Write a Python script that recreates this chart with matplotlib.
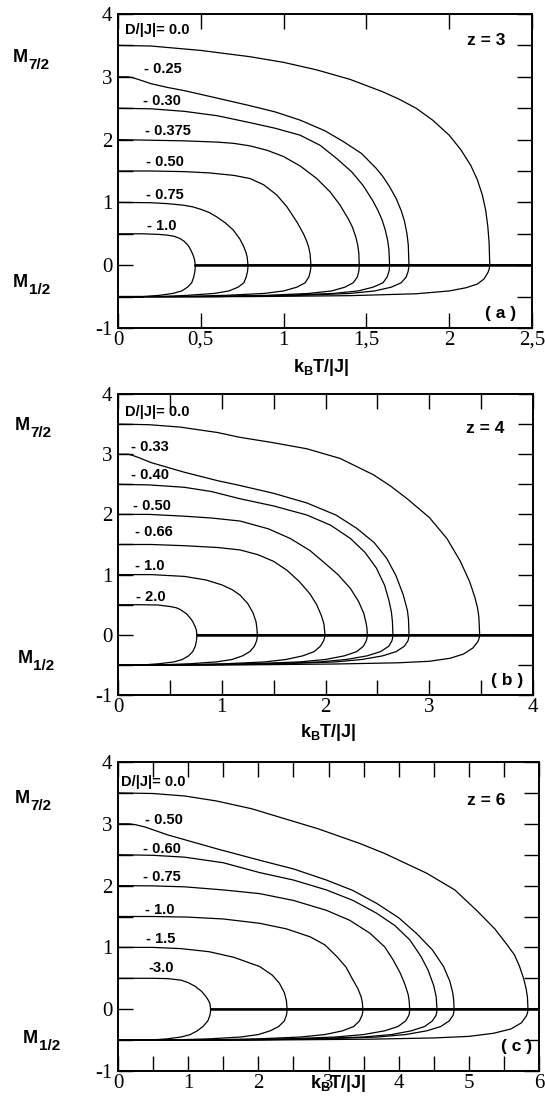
import matplotlib
matplotlib.use("Agg")
import matplotlib.pyplot as plt

plt.rcParams['mathtext.fontset'] = 'custom'
plt.rcParams['mathtext.bf'] = 'Liberation Sans:bold'
plt.rcParams['mathtext.rm'] = 'Liberation Sans'
plt.rcParams['mathtext.it'] = 'Liberation Sans:italic'

# ---------------- Panel (a): z = 3 ----------------
a_labels = ["D/|J|= 0.0", "- 0.25", "- 0.30", "- 0.375", "- 0.50", "- 0.75", "- 1.0"]
a_t7 = [
    [0, 0.2, 0.5, 0.797, 1.0, 1.2, 1.4, 1.6, 1.7, 1.8, 1.9, 2.0, 2.07, 2.13, 2.17, 2.2, 2.22, 2.233, 2.241, 2.245],
    [0, 0.06, 0.09, 0.12, 0.2, 0.3, 0.4, 0.6, 0.797, 0.95, 1.1, 1.25, 1.36, 1.47, 1.56, 1.60, 1.64, 1.68, 1.71, 1.73, 1.745, 1.753, 1.757],
    [0, 0.2, 0.4, 0.6, 0.797, 0.95, 1.1, 1.22, 1.32, 1.41, 1.48, 1.54, 1.57, 1.595, 1.615, 1.628, 1.636, 1.64],
    [0, 0.2, 0.4, 0.6, 0.7, 0.797, 0.9, 1.0, 1.1, 1.2, 1.28, 1.34, 1.39, 1.415, 1.435, 1.447, 1.454, 1.457],
    [0, 0.2, 0.4, 0.55, 0.7, 0.797, 0.88, 0.958, 1.02, 1.08, 1.12, 1.14, 1.152, 1.16, 1.165],
    [0, 0.2, 0.3, 0.394, 0.45, 0.5, 0.55, 0.596, 0.65, 0.696, 0.735, 0.757, 0.772, 0.78, 0.785],
    [0, 0.15, 0.25, 0.294, 0.34, 0.374, 0.40, 0.425, 0.442, 0.455, 0.462, 0.467],
]
a_m7 = [
    [3.5, 3.49, 3.42, 3.32, 3.23, 3.11, 2.96, 2.76, 2.64, 2.50, 2.31, 2.07, 1.84, 1.59, 1.36, 1.12, 0.88, 0.62, 0.36, 0],
    [3.0, 3.0, 2.985, 2.96, 2.89, 2.83, 2.78, 2.66, 2.54, 2.44, 2.31, 2.14, 1.97, 1.78, 1.54, 1.41, 1.25, 1.06, 0.87, 0.70, 0.50, 0.32, 0],
    [2.5, 2.49, 2.45, 2.38, 2.27, 2.18, 2.07, 1.91, 1.70, 1.49, 1.27, 1.02, 0.87, 0.72, 0.55, 0.40, 0.25, 0],
    [2.0, 1.99, 1.98, 1.96, 1.94, 1.90, 1.83, 1.73, 1.58, 1.38, 1.17, 0.96, 0.74, 0.61, 0.46, 0.33, 0.2, 0],
    [1.5, 1.5, 1.49, 1.47, 1.43, 1.38, 1.28, 1.12, 0.93, 0.69, 0.50, 0.38, 0.28, 0.18, 0],
    [1.0, 0.995, 0.98, 0.956, 0.93, 0.89, 0.84, 0.77, 0.67, 0.56, 0.42, 0.31, 0.21, 0.13, 0],
    [0.5, 0.5, 0.49, 0.48, 0.46, 0.425, 0.38, 0.31, 0.23, 0.15, 0.09, 0],
]
a_t1 = [
    [0, 0.8, 1.4, 1.8, 2.0, 2.1, 2.17, 2.21, 2.235, 2.242, 2.245],
    [0, 0.6, 1.1, 1.4, 1.55, 1.65, 1.71, 1.74, 1.752, 1.755, 1.757],
    [0, 0.6, 1.0, 1.3, 1.45, 1.54, 1.60, 1.625, 1.636, 1.639, 1.64],
    [0, 0.5, 0.9, 1.15, 1.29, 1.37, 1.42, 1.445, 1.454, 1.456, 1.457],
    [0, 0.35, 0.65, 0.88, 1.0, 1.08, 1.13, 1.152, 1.161, 1.164, 1.165],
    [0, 0.25, 0.42, 0.58, 0.67, 0.725, 0.76, 0.774, 0.782, 0.784, 0.785],
    [0, 0.15, 0.25, 0.33, 0.385, 0.42, 0.445, 0.457, 0.464, 0.466, 0.467],
]
a_m1 = [
    [-0.5, -0.5, -0.485, -0.455, -0.41, -0.36, -0.30, -0.22, -0.11, -0.055, 0],
    [-0.5, -0.5, -0.48, -0.45, -0.41, -0.35, -0.28, -0.19, -0.10, -0.05, 0],
    [-0.5, -0.5, -0.48, -0.45, -0.41, -0.35, -0.28, -0.19, -0.10, -0.05, 0],
    [-0.5, -0.5, -0.48, -0.45, -0.41, -0.35, -0.28, -0.19, -0.10, -0.05, 0],
    [-0.5, -0.5, -0.48, -0.45, -0.41, -0.35, -0.28, -0.19, -0.10, -0.05, 0],
    [-0.5, -0.5, -0.48, -0.45, -0.41, -0.35, -0.28, -0.19, -0.10, -0.05, 0],
    [-0.5, -0.5, -0.48, -0.45, -0.41, -0.35, -0.28, -0.19, -0.10, -0.05, 0],
]
a_lab_x = [0.044, 0.157, 0.151, 0.161, 0.171, 0.171, 0.177]
a_lab_y = [3.75, 3.12, 2.61, 2.13, 1.65, 1.11, 0.62]
a_xticks = [0, 0.5, 1, 1.5, 2, 2.5]
a_xticklabels = ["0", "0,5", "1", "1,5", "2", "2,5"]
a_xminor = []

# ---------------- Panel (b): z = 4 ----------------
b_labels = ["D/|J|= 0.0", "- 0.33", "- 0.40", "- 0.50", "- 0.66", "- 1.0", "- 2.0"]
b_t7 = [
    [0, 0.3, 0.6, 0.96, 1.176, 1.5, 1.82, 2.14, 2.46, 2.62, 2.78, 3.0, 3.17, 3.3, 3.39, 3.44, 3.465, 3.478, 3.486],
    [0, 0.1, 0.14, 0.19, 0.32, 0.64, 0.96, 1.176, 1.5, 1.82, 2.1, 2.3, 2.47, 2.59, 2.68, 2.75, 2.79, 2.8, 2.805],
    [0, 0.3, 0.64, 0.9, 1.176, 1.5, 1.82, 2.05, 2.24, 2.38, 2.49, 2.57, 2.61, 2.635, 2.645, 2.65],
    [0, 0.3, 0.64, 0.9, 1.176, 1.45, 1.66, 1.85, 1.98, 2.12, 2.24, 2.32, 2.37, 2.393, 2.4, 2.403],
    [0, 0.32, 0.64, 0.96, 1.176, 1.35, 1.5, 1.63, 1.75, 1.85, 1.915, 1.96, 1.985, 1.995],
    [0, 0.32, 0.64, 0.85, 1.0, 1.1, 1.176, 1.25, 1.3, 1.33, 1.338, 1.343],
    [0, 0.2, 0.386, 0.5, 0.56, 0.6, 0.66, 0.7, 0.72, 0.745, 0.755, 0.761],
]
b_m7 = [
    [3.5, 3.49, 3.45, 3.36, 3.28, 3.19, 3.09, 2.93, 2.66, 2.48, 2.27, 1.95, 1.60, 1.22, 0.88, 0.62, 0.45, 0.30, 0],
    [3.0, 3.0, 2.98, 2.95, 2.86, 2.70, 2.56, 2.48, 2.35, 2.19, 1.99, 1.77, 1.53, 1.27, 0.98, 0.66, 0.40, 0.25, 0],
    [2.5, 2.49, 2.45, 2.38, 2.26, 2.14, 1.99, 1.82, 1.60, 1.37, 1.11, 0.82, 0.58, 0.38, 0.22, 0],
    [2.0, 2.0, 1.97, 1.94, 1.89, 1.76, 1.60, 1.40, 1.21, 1.0, 0.77, 0.55, 0.35, 0.18, 0.1, 0],
    [1.5, 1.5, 1.48, 1.45, 1.41, 1.33, 1.22, 1.07, 0.88, 0.68, 0.50, 0.32, 0.18, 0],
    [1.0, 1.0, 0.97, 0.91, 0.83, 0.75, 0.66, 0.52, 0.37, 0.22, 0.12, 0],
    [0.5, 0.5, 0.495, 0.47, 0.45, 0.42, 0.35, 0.27, 0.22, 0.13, 0.08, 0],
]
b_t1 = [
    [0, 1.2, 2.1, 2.7, 3.0, 3.2, 3.33, 3.42, 3.47, 3.481, 3.486],
    [0, 0.9, 1.6, 2.1, 2.35, 2.55, 2.68, 2.76, 2.795, 2.802, 2.805],
    [0, 0.8, 1.45, 1.95, 2.2, 2.4, 2.53, 2.61, 2.64, 2.647, 2.65],
    [0, 0.7, 1.3, 1.75, 2.0, 2.18, 2.3, 2.365, 2.393, 2.4, 2.403],
    [0, 0.55, 1.05, 1.42, 1.62, 1.78, 1.89, 1.95, 1.982, 1.991, 1.995],
    [0, 0.4, 0.7, 0.95, 1.1, 1.2, 1.27, 1.315, 1.336, 1.341, 1.343],
    [0, 0.25, 0.4, 0.54, 0.62, 0.68, 0.72, 0.745, 0.756, 0.759, 0.761],
]
b_m1 = [
    [-0.5, -0.5, -0.485, -0.465, -0.44, -0.39, -0.32, -0.22, -0.11, -0.055, 0],
    [-0.5, -0.5, -0.48, -0.45, -0.41, -0.35, -0.28, -0.19, -0.10, -0.05, 0],
    [-0.5, -0.5, -0.48, -0.45, -0.41, -0.35, -0.28, -0.19, -0.10, -0.05, 0],
    [-0.5, -0.5, -0.48, -0.45, -0.41, -0.35, -0.28, -0.19, -0.10, -0.05, 0],
    [-0.5, -0.5, -0.48, -0.45, -0.41, -0.35, -0.28, -0.19, -0.10, -0.05, 0],
    [-0.5, -0.5, -0.48, -0.45, -0.41, -0.35, -0.28, -0.19, -0.10, -0.05, 0],
    [-0.5, -0.5, -0.48, -0.45, -0.41, -0.35, -0.28, -0.19, -0.10, -0.05, 0],
]
b_lab_x = [0.07, 0.122, 0.122, 0.145, 0.16, 0.16, 0.177]
b_lab_y = [3.70, 3.125, 2.65, 2.145, 1.70, 1.14, 0.63]
b_xticks = [0, 1, 2, 3, 4]
b_xticklabels = ["0", "1", "2", "3", "4"]
b_xminor = [0.5, 1.5, 2.5, 3.5]

# ---------------- Panel (c): z = 6 ----------------
c_labels = ["D/|J|= 0.0", "- 0.50", "- 0.60", "- 0.75", "- 1.0", "- 1.5", "-3.0"]
c_t7 = [
    [0, 0.5, 0.95, 1.4, 1.9, 2.85, 3.45, 3.8, 4.4, 4.8, 5.11, 5.37, 5.54, 5.65, 5.72, 5.78, 5.815, 5.835, 5.843],
    [0, 0.15, 0.25, 0.38, 0.71, 1.425, 2.02, 2.5, 2.97, 3.35, 3.69, 4.0, 4.26, 4.48, 4.64, 4.73, 4.77, 4.784, 4.79],
    [0, 0.5, 0.95, 1.5, 2.02, 2.5, 2.97, 3.35, 3.69, 3.95, 4.16, 4.32, 4.42, 4.5, 4.535, 4.546],
    [0, 0.5, 0.95, 1.5, 2.02, 2.5, 2.97, 3.3, 3.59, 3.8, 3.92, 4.02, 4.09, 4.135, 4.15, 4.157],
    [0, 0.5, 1.0, 1.5, 2.02, 2.4, 2.74, 2.95, 3.12, 3.25, 3.35, 3.42, 3.465, 3.482, 3.49],
    [0, 0.5, 0.9, 1.3, 1.65, 2.02, 2.2, 2.3, 2.37, 2.40, 2.41],
    [0, 0.5, 0.71, 0.9, 1.0, 1.1, 1.19, 1.25, 1.29, 1.31, 1.32],
]
c_m7 = [
    [3.5, 3.49, 3.45, 3.37, 3.245, 2.92, 2.68, 2.52, 2.20, 1.93, 1.60, 1.30, 1.05, 0.88, 0.70, 0.50, 0.34, 0.2, 0],
    [3.0, 3.0, 2.985, 2.95, 2.82, 2.59, 2.41, 2.27, 2.09, 1.92, 1.71, 1.48, 1.22, 0.96, 0.69, 0.45, 0.27, 0.15, 0],
    [2.5, 2.49, 2.46, 2.37, 2.21, 2.09, 1.93, 1.76, 1.55, 1.35, 1.12, 0.85, 0.63, 0.38, 0.2, 0],
    [2.0, 1.995, 1.98, 1.93, 1.87, 1.76, 1.60, 1.44, 1.23, 1.01, 0.80, 0.59, 0.40, 0.24, 0.13, 0],
    [1.5, 1.5, 1.49, 1.46, 1.39, 1.30, 1.17, 1.04, 0.85, 0.68, 0.47, 0.33, 0.2, 0.11, 0],
    [1.0, 1.0, 0.98, 0.93, 0.84, 0.69, 0.55, 0.42, 0.27, 0.14, 0],
    [0.5, 0.5, 0.495, 0.47, 0.43, 0.37, 0.29, 0.21, 0.14, 0.09, 0],
]
c_t1 = [
    [0, 2.0, 3.6, 4.5, 5.0, 5.35, 5.6, 5.75, 5.82, 5.837, 5.843],
    [0, 1.6, 2.9, 3.7, 4.1, 4.4, 4.6, 4.72, 4.775, 4.786, 4.79],
    [0, 1.5, 2.7, 3.5, 3.9, 4.18, 4.37, 4.48, 4.532, 4.542, 4.546],
    [0, 1.3, 2.4, 3.1, 3.5, 3.8, 3.99, 4.1, 4.145, 4.154, 4.157],
    [0, 1.1, 2.0, 2.6, 2.95, 3.2, 3.36, 3.44, 3.478, 3.487, 3.49],
    [0, 0.7, 1.3, 1.75, 2.0, 2.17, 2.29, 2.37, 2.4, 2.407, 2.41],
    [0, 0.45, 0.7, 0.9, 1.03, 1.13, 1.21, 1.28, 1.31, 1.317, 1.32],
]
c_m1 = [
    [-0.5, -0.5, -0.485, -0.465, -0.44, -0.39, -0.32, -0.22, -0.11, -0.055, 0],
    [-0.5, -0.5, -0.48, -0.45, -0.41, -0.35, -0.28, -0.19, -0.10, -0.05, 0],
    [-0.5, -0.5, -0.48, -0.45, -0.41, -0.35, -0.28, -0.19, -0.10, -0.05, 0],
    [-0.5, -0.5, -0.48, -0.45, -0.41, -0.35, -0.28, -0.19, -0.10, -0.05, 0],
    [-0.5, -0.5, -0.48, -0.45, -0.41, -0.35, -0.28, -0.19, -0.10, -0.05, 0],
    [-0.5, -0.5, -0.48, -0.45, -0.41, -0.35, -0.28, -0.19, -0.10, -0.05, 0],
    [-0.5, -0.5, -0.48, -0.45, -0.41, -0.35, -0.28, -0.19, -0.10, -0.05, 0],
]
c_lab_x = [0.048, 0.39, 0.356, 0.356, 0.39, 0.40, 0.43]
c_lab_y = [3.68, 3.06, 2.60, 2.14, 1.60, 1.14, 0.66]
c_xticks = [0, 1, 2, 3, 4, 5, 6]
c_xticklabels = ["0", "1", "2", "3", "4", "5", "6"]
c_xminor = [0.5, 1.5, 2.5, 3.5, 4.5, 5.5]

yticks = [-1, 0, 1, 2, 3, 4]
yticklabels = ["-1", "0", "1", "2", "3", "4"]
yminor = [-0.5, 0.5, 1.5, 2.5, 3.5]

z_texts = ["z = 3", "z = 4", "z = 6"]
tags = ["( a )", "( b )", "( c )"]

# ---------------- Figure ----------------
W, H = 545, 1117
fig = plt.figure(figsize=(W / 100, H / 100), dpi=100)


def px_rect(l, t, r, b):
    return [l / W, 1 - b / H, (r - l) / W, (b - t) / H]


def fx(x):
    return x / W


def fy(y):
    return 1 - y / H


panels = [
    dict(rect=px_rect(118, 14, 532, 328), xmax=2.5, t7=a_t7, m7=a_m7, t1=a_t1, m1=a_m1,
         labels=a_labels, lx=a_lab_x, ly=a_lab_y, xt=a_xticks, xtl=a_xticklabels, xmin_=a_xminor,
         ztxt=(0.844, 0.915), tag=(0.886, 0.045),
         m7pos=(13, 62), m1pos=(13, 287), xlab=(321, 372)),
    dict(rect=px_rect(118, 394, 533, 695), xmax=4, t7=b_t7, m7=b_m7, t1=b_t1, m1=b_m1,
         labels=b_labels, lx=b_lab_x, ly=b_lab_y, xt=b_xticks, xtl=b_xticklabels, xmin_=b_xminor,
         ztxt=(0.839, 0.887), tag=(0.898, 0.048),
         m7pos=(15, 430), m1pos=(18, 663), xlab=(328, 737)),
    dict(rect=px_rect(118, 762, 539, 1071), xmax=6, t7=c_t7, m7=c_m7, t1=c_t1, m1=c_m1,
         labels=c_labels, lx=c_lab_x, ly=c_lab_y, xt=c_xticks, xtl=c_xticklabels, xmin_=c_xminor,
         ztxt=(0.83, 0.876), tag=(0.91, 0.078),
         m7pos=(15, 803), m1pos=(23, 1043), xlab=(338, 1088)),
]

for i, p in enumerate(panels):
    ax = fig.add_axes(p["rect"])
    xmax = p["xmax"]
    ax.set_xlim(0, xmax)
    ax.set_ylim(-1, 4)
    for t, m in zip(p["t7"], p["m7"]):
        ax.plot(list(t) + [xmax], list(m) + [0], color="black", lw=0.9)
    for t, m in zip(p["t1"], p["m1"]):
        ax.plot(list(t) + [xmax], list(m) + [0], color="black", lw=0.9)
    tc_min = min(t[-1] for t in p["t7"])
    ax.plot([tc_min, xmax], [0, 0], color="black", lw=1.8)
    ax.plot([0, min(t[1] for t in p["t1"])], [-0.5, -0.5], color="black", lw=1.4)

    for lab, x, y in zip(p["labels"], p["lx"], p["ly"]):
        ax.text(x, y, lab, fontsize=10.5, fontweight="bold", family="Liberation Sans",
                ha="left", va="center")
    ax.text(p["ztxt"][0], p["ztxt"][1], z_texts[i], transform=ax.transAxes, fontsize=12.5,
            fontweight="bold", family="Liberation Sans", ha="left", va="center")
    ax.text(p["tag"][0], p["tag"][1], tags[i], transform=ax.transAxes, fontsize=12.5,
            fontweight="bold", family="Liberation Sans", ha="left", va="center")

    ax.set_xticks(p["xt"])
    ax.set_xticklabels(p["xtl"], fontfamily="Liberation Serif", fontsize=15)
    ax.set_xticks(p["xmin_"], minor=True)
    ax.set_yticks(yticks)
    ax.set_yticklabels(yticklabels, fontfamily="Liberation Serif", fontsize=15)
    ax.set_yticks(yminor, minor=True)
    ax.tick_params(which="both", direction="in", length=10.5, width=1.0,
                   top=True, right=True, colors="black")
    ax.tick_params(axis="x", which="major", pad=2)
    ax.tick_params(axis="y", which="major", pad=4)
    for s in ax.spines.values():
        s.set_linewidth(1.4)

    for (mx, my), sub in ((p["m7pos"], "7/2"), (p["m1pos"], "1/2")):
        fig.text(fx(mx), fy(my), "M", fontsize=13, fontweight="bold",
                 family="Liberation Sans", ha="left", va="baseline")
        fig.text(fx(mx + 15.5), fy(my + 7), sub, fontsize=11, fontweight="bold",
                 family="Liberation Sans", ha="left", va="baseline")
    fig.text(fx(p["xlab"][0]), fy(p["xlab"][1]), r"$\mathbf{k_BT/|J|}$",
             fontsize=13, ha="center", va="baseline")

fig.savefig("out.png", dpi=100)
